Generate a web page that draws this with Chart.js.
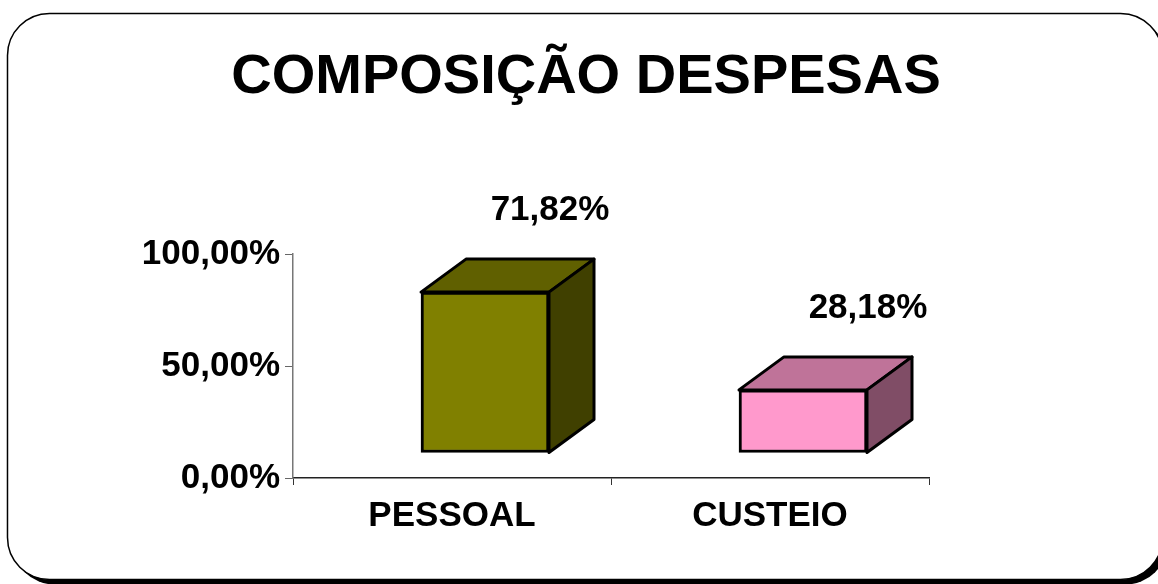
<!DOCTYPE html>
<html>
<head>
<meta charset="utf-8">
<title>Composição despesas</title>
<script src="https://cdn.jsdelivr.net/npm/chart.js@4.4.1/dist/chart.umd.min.js"></script>
<style>
  html, body { margin: 0; padding: 0; background: #fff; }
  #wrap { width: 1158px; height: 584px; }
</style>
</head>
<body>
<div id="wrap"><canvas id="chart" width="1158" height="584"></canvas></div>
<script>
const titleText = "COMPOSIÇÃO DESPESAS";
const categories = ["PESSOAL", "CUSTEIO"];
const values = [71.82, 28.18];
const valueLabels = ["71,82%", "28,18%"];
const frontColors = ["#808000", "#FF99CC"];
const topColors = ["#606000", "#BF7399"];
const sideColors = ["#404000", "#804D66"];

const FONT = "'Liberation Sans', Arial, sans-serif";
// 3d look: depth of the box and how far the front face sits from the axis
const depthX = 45, depthY = 33;
const shiftX = 33, shiftY = 25;

function pct(v) {
  return v.toFixed(2).replace(".", ",") + "%";
}

function roundRect(ctx, x, y, w, h, r) {
  ctx.beginPath();
  ctx.moveTo(x + r, y);
  ctx.lineTo(x + w - r, y);
  ctx.arcTo(x + w, y, x + w, y + r, r);
  ctx.lineTo(x + w, y + h - r);
  ctx.arcTo(x + w, y + h, x + w - r, y + h, r);
  ctx.lineTo(x + r, y + h);
  ctx.arcTo(x, y + h, x, y + h - r, r);
  ctx.lineTo(x, y + r);
  ctx.arcTo(x, y, x + r, y, r);
  ctx.closePath();
}

const framePlugin = {
  id: "frame",
  beforeDraw(chart) {
    const ctx = chart.ctx;
    ctx.save();
    ctx.fillStyle = "#fff";
    ctx.fillRect(0, 0, chart.width, chart.height);
    // shadow
    roundRect(ctx, 12.5, 18.5, 1155, 566, 42);
    ctx.fillStyle = "#000";
    ctx.fill();
    roundRect(ctx, 7.5, 13.5, 1155, 566, 42);
    ctx.fillStyle = "#fff";
    ctx.fill();
    ctx.lineWidth = 1.5;
    ctx.strokeStyle = "#000";
    ctx.stroke();
    // title
    ctx.fillStyle = "#000";
    ctx.font = "bold 56px " + FONT;
    ctx.textAlign = "center";
    ctx.textBaseline = "alphabetic";
    ctx.fillText(titleText, 586, 93);
    ctx.restore();
  },
};

const bar3dPlugin = {
  id: "bar3d",
  beforeDatasetsDraw(chart) {
    const ctx = chart.ctx;
    ctx.save();
    ctx.translate(shiftX, -shiftY);
    const meta = chart.getDatasetMeta(0);
    meta.data.forEach((bar, i) => {
      const { x, y, base, width } = bar.getProps(["x", "y", "base", "width"], true);
      const l = x - width / 2;
      const r = x + width / 2;
      ctx.lineWidth = 3;
      ctx.lineJoin = "round";
      ctx.strokeStyle = "#000";

      ctx.beginPath();
      ctx.moveTo(l, y);
      ctx.lineTo(l + depthX, y - depthY);
      ctx.lineTo(r + depthX, y - depthY);
      ctx.lineTo(r, y);
      ctx.closePath();
      ctx.fillStyle = topColors[i];
      ctx.fill();
      ctx.stroke();

      ctx.beginPath();
      ctx.moveTo(r, y);
      ctx.lineTo(r + depthX, y - depthY);
      ctx.lineTo(r + depthX, base - depthY);
      ctx.lineTo(r, base);
      ctx.closePath();
      ctx.fillStyle = sideColors[i];
      ctx.fill();
      ctx.stroke();
    });
  },
  afterDatasetsDraw(chart) {
    const ctx = chart.ctx;
    ctx.restore();
    ctx.save();
    ctx.fillStyle = "#000";
    ctx.font = "bold 35px " + FONT;
    ctx.textAlign = "center";
    ctx.textBaseline = "alphabetic";
    chart.getDatasetMeta(0).data.forEach((bar, i) => {
      const { x, y } = bar.getProps(["x", "y"], true);
      ctx.fillText(valueLabels[i], x + shiftX + 65, y - 97);
    });
    ctx.restore();
  },
};

new Chart(document.getElementById("chart"), {
  type: "bar",
  data: {
    labels: categories,
    datasets: [
      {
        data: values,
        backgroundColor: frontColors,
        borderColor: "#000",
        borderWidth: 3,
        borderSkipped: false,
        barThickness: 128,
        clip: false,
      },
    ],
  },
  options: {
    responsive: false,
    animation: false,
    layout: { padding: { top: 254, right: 229, left: 0, bottom: 0 } },
    plugins: {
      legend: { display: false },
      tooltip: { enabled: false },
    },
    scales: {
      x: {
        afterFit: (scale) => { scale.height = 106; },
        grid: { drawOnChartArea: false, tickLength: 7, color: "#333", offset: true },
        border: { color: "#222", width: 1.5 },
        ticks: {
          color: "#000",
          padding: 10,
          font: { family: FONT, size: 35, weight: "bold" },
        },
      },
      y: {
        min: 0,
        max: 100,
        afterFit: (scale) => { scale.width = 293; },
        grid: { drawOnChartArea: false, tickLength: 8, color: "#666" },
        border: { color: "#777", width: 1.5 },
        ticks: {
          stepSize: 50,
          color: "#000",
          padding: 5,
          font: { family: FONT, size: 35, weight: "bold" },
          callback: (v) => pct(v),
        },
      },
    },
  },
  plugins: [framePlugin, bar3dPlugin],
});
</script>
</body>
</html>
